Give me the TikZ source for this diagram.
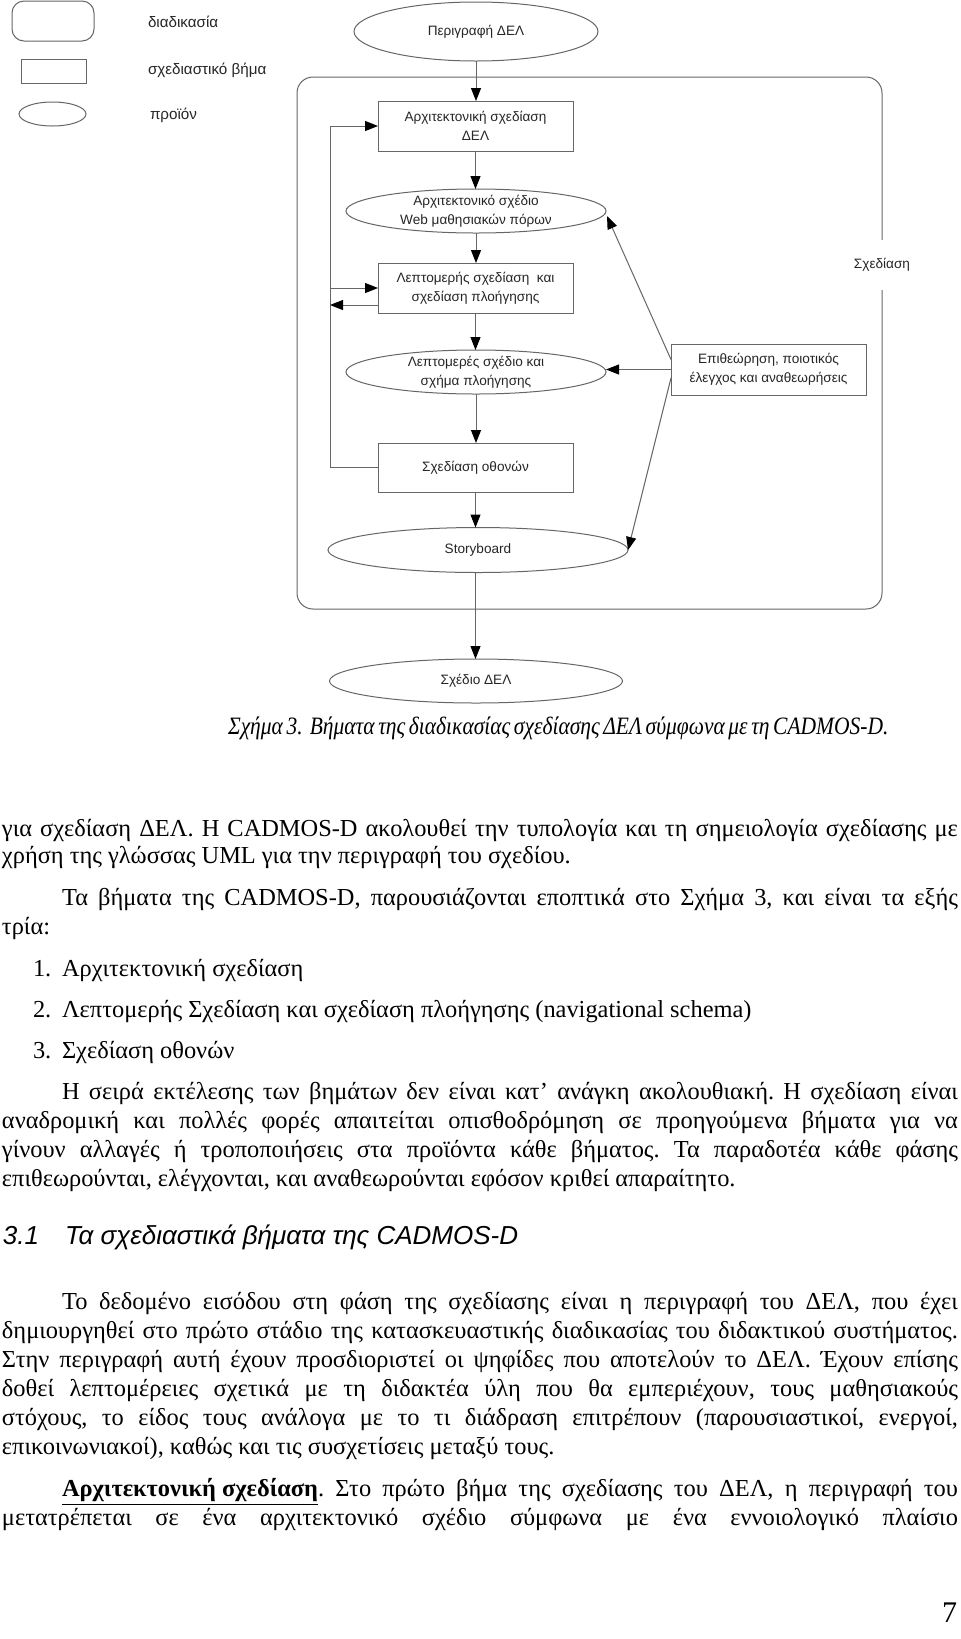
\documentclass[tikz,border=0pt]{standalone}
\usepackage{fontspec}
\setmainfont{Liberation Serif}
\newfontfamily\dsans{Liberation Sans}
\newfontfamily\capfont[FakeStretch=0.86]{Liberation Serif}
\usetikzlibrary{arrows.meta,shapes.geometric,calc}
\newcommand\jline[1]{\makebox[478pt][s]{#1}}
\newcommand\jind[1]{\makebox[448pt][s]{#1}}
\begin{document}
\frenchspacing
\begin{tikzpicture}[x=0.5pt,y=-0.5pt,
  every node/.style={inner sep=0pt,outer sep=0pt},
  ln/.style={draw=black!60,line width=0.5pt},
  arr/.style={ln,-{Triangle[length=6.5pt,width=5pt,color=black]}},
  shp/.style={draw=black!60,line width=0.5pt},
  prod/.style={shp,ellipse},
  stepbox/.style={shp,rectangle},
  dtxt/.style={font=\dsans\fontsize{6.8pt}{9.3pt}\selectfont,align=center,text=black!85},
  legtxt/.style={anchor=west,font=\dsans\fontsize{7.6pt}{9pt}\selectfont,text=black!85},
  body/.style={anchor=base west,font=\fontsize{12.2pt}{14.5pt}\selectfont},
  head/.style={anchor=base west,font=\dsans\itshape\fontsize{13pt}{15pt}\selectfont},
]
\useasboundingbox[fill=white] (0,0) rectangle (960,1639);

% legend
\node[shp,rounded corners=6pt,minimum width=41pt,minimum height=20pt] (lg1) at (53,21) {};
\node[legtxt] (lg1t) at (148,22) {διαδικασία};
\node[stepbox,minimum width=32.5pt,minimum height=12pt] (lg2) at (53.5,71) {};
\node[legtxt] (lg2t) at (148,70) {σχεδιαστικό βήμα};
\node[prod,minimum width=33.5pt,minimum height=12pt] (lg3) at (52.5,114) {};
\node[legtxt] (lg3t) at (150,115) {προϊόν};

% container
\draw[ln,rounded corners=8pt] (297,77) rectangle (882,609);
\node[dtxt,fill=white,inner xsep=2pt,inner ysep=9pt] (cont) at (882,265) {Σχεδίαση};

% main flow
\node[prod,minimum width=122pt,minimum height=29.5pt] (E1) at (476,31.5) {};
\node[dtxt] (E1t) at (E1) {Περιγραφή ΔΕΛ};
\node[stepbox,minimum width=97.5pt,minimum height=25pt] (R1) at (475.5,126) {};
\node[dtxt] (R1t) at (R1) {Αρχιτεκτονική σχεδίαση\\ΔΕΛ};
\node[prod,minimum width=130pt,minimum height=22pt] (E2) at (476,211) {};
\node[dtxt] (E2t) at (E2) {Αρχιτεκτονικό σχέδιο\\Web μαθησιακών πόρων};
\node[stepbox,minimum width=97.5pt,minimum height=25pt] (R2) at (475.5,288) {};
\node[dtxt] (R2t) at (R2) {Λεπτομερής σχεδίαση\ \ και\\σχεδίαση πλοήγησης};
\node[prod,minimum width=130pt,minimum height=22pt] (E3) at (476,372) {};
\node[dtxt] (E3t) at (E3) {Λεπτομερές σχέδιο και\\σχήμα πλοήγησης};
\node[stepbox,minimum width=97.5pt,minimum height=24.5pt] (R3) at (475.5,467.5) {};
\node[dtxt] (R3t) at (R3) {Σχεδίαση οθονών};
\node[prod,minimum width=150pt,minimum height=22.5pt] (E4) at (478,550) {};
\node[dtxt] (E4t) at (E4) {Storyboard};
\node[prod,minimum width=146.5pt,minimum height=22pt] (E5) at (476,681) {};
\node[dtxt] (E5t) at (E5) {Σχέδιο ΔΕΛ};
\node[stepbox,minimum width=97.5pt,minimum height=25.5pt] (R4) at (768.5,369.5) {};
\node[dtxt] (R4t) at (R4) {Επιθεώρηση, ποιοτικός\\έλεγχος και αναθεωρήσεις};

\draw[arr] (E1.south) -- (E1.south |- R1.north);
\draw[arr] (R1.south) -- (R1.south |- E2.north);
\draw[arr] (E2.south) -- (E2.south |- R2.north);
\draw[arr] (R2.south) -- (R2.south |- E3.north);
\draw[arr] (E3.south) -- (E3.south |- R3.north);
\draw[arr] (R3.south) -- (R3.south |- E4.north);
\draw[arr] (R3.south |- E4.south) -- (R3.south |- E5.north);

% feedback on the left
\coordinate (L) at (330,0);
\draw[arr] (R3.west) -- (R3.west -| L) -- (R1.west -| L) -- (R1.west);
\draw[arr] (R2.west -| L) -- (R2.west);
\draw[arr] ($(R2.west)+(0,17)$) -- ($(R2.west -| L)+(0,17)$);

% review arrows
\draw[arr] ($(R4.west)+(0,-10)$) -- ($(E2.east)+(1,5)$);
\draw[arr] (R4.west) -- (R4.west -| E3.east);
\draw[arr] ($(R4.west)+(0,8.5)$) -- (E4.east);

% caption
\node[anchor=base west,font=\capfont\itshape\fontsize{12.5pt}{14.5pt}\selectfont] (cap) at (228,734)
  {\makebox[327pt][s]{Σχήμα 3.\ \ Βήματα της διαδικασίας σχεδίασης ΔΕΛ σύμφωνα με τη CADMOS-D.}};

% body text
\node[body] (t1) at (2,836) {\jline{για σχεδίαση ΔΕΛ. Η CADMOS-D ακολουθεί την τυπολογία και τη σημειολογία σχεδίασης με}};
\node[body] (t2) at (2,863) {χρήση της γλώσσας UML για την περιγραφή του σχεδίου.};
\node[body] (t3) at (62,905) {\jind{Τα βήματα της CADMOS-D, παρουσιάζονται εποπτικά στο Σχήμα 3, και είναι τα εξής}};
\node[body] (t4) at (2,934) {τρία:};
\node[body] (n1) at (33,976) {1.};
\node[body] (t5) at (62,976) {Αρχιτεκτονική σχεδίαση};
\node[body] (n2) at (33,1017) {2.};
\node[body] (t6) at (62,1017) {Λεπτομερής Σχεδίαση και σχεδίαση πλοήγησης (navigational schema)};
\node[body] (n3) at (33,1058) {3.};
\node[body] (t7) at (62,1058) {Σχεδίαση οθονών};
\node[body] (t8) at (62,1099) {\jind{Η σειρά εκτέλεσης των βημάτων δεν είναι κατ' ανάγκη ακολουθιακή. Η σχεδίαση είναι}};
\node[body] (t9) at (2,1128) {\jline{αναδρομική και πολλές φορές απαιτείται οπισθοδρόμηση σε προηγούμενα βήματα για να}};
\node[body] (t10) at (2,1157) {\jline{γίνουν αλλαγές ή τροποποιήσεις στα προϊόντα κάθε βήματος. Τα παραδοτέα κάθε φάσης}};
\node[body] (t11) at (2,1186) {επιθεωρούνται, ελέγχονται, και αναθεωρούνται εφόσον κριθεί απαραίτητο.};

\node[head] (h1) at (3,1244) {3.1};
\node[head] (h2) at (65,1244) {Τα σχεδιαστικά βήματα της CADMOS-D};

\node[body] (t12) at (62,1309) {\jind{Το δεδομένο εισόδου στη φάση της σχεδίασης είναι η περιγραφή του ΔΕΛ, που έχει}};
\node[body] (t13) at (2,1338) {\jline{δημιουργηθεί στο πρώτο στάδιο της κατασκευαστικής διαδικασίας του διδακτικού συστήματος.}};
\node[body] (t14) at (2,1367) {\jline{Στην περιγραφή αυτή έχουν προσδιοριστεί οι ψηφίδες που αποτελούν το ΔΕΛ. Έχουν επίσης}};
\node[body] (t15) at (2,1396) {\jline{δοθεί λεπτομέρειες σχετικά με τη διδακτέα ύλη που θα εμπεριέχουν, τους μαθησιακούς}};
\node[body] (t16) at (2,1425) {\jline{στόχους, το είδος τους ανάλογα με το τι διάδραση επιτρέπουν (παρουσιαστικοί, ενεργοί,}};
\node[body] (t17) at (2,1454) {επικοινωνιακοί), καθώς και τις συσχετίσεις μεταξύ τους.};
\node[body] (t18) at (62,1496) {\jind{\underline{\textbf{Αρχιτεκτονική σχεδίαση}}. Στο πρώτο βήμα της σχεδίασης του ΔΕΛ, η περιγραφή του}};
\node[body] (t19) at (2,1525) {\jline{μετατρέπεται σε ένα αρχιτεκτονικό σχέδιο σύμφωνα με ένα εννοιολογικό πλαίσιο}};

\node[anchor=base east,font=\fontsize{15pt}{18pt}\selectfont] (pg) at (957,1622) {7};
\end{tikzpicture}
\end{document}
